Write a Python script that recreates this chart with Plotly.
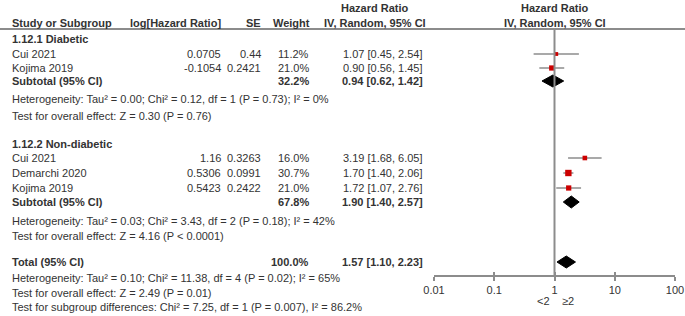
import plotly.graph_objects as go

W, H = 685, 316

# ---------------- data ----------------
diab_names = ["Cui 2021", "Kojima 2019"]
diab_loghr = ["0.0705", "-0.1054"]
diab_se = ["0.44", "0.2421"]
diab_weight = [11.2, 21.0]
diab_hr = [1.07, 0.90]
diab_lo = [0.45, 0.56]
diab_hi = [2.54, 1.45]
diab_sub_weight = 32.2
diab_sub_hr = [0.94, 0.62, 1.42]
diab_het = "Heterogeneity: Tau² = 0.00; Chi² = 0.12, df = 1 (P = 0.73); I² = 0%"
diab_test = "Test for overall effect: Z = 0.30 (P = 0.76)"

nond_names = ["Cui 2021", "Demarchi 2020", "Kojima 2019"]
nond_loghr = ["1.16", "0.5306", "0.5423"]
nond_se = ["0.3263", "0.0991", "0.2422"]
nond_weight = [16.0, 30.7, 21.0]
nond_hr = [3.19, 1.70, 1.72]
nond_lo = [1.68, 1.40, 1.07]
nond_hi = [6.05, 2.06, 2.76]
nond_sub_weight = 67.8
nond_sub_hr = [1.90, 1.40, 2.57]
nond_het = "Heterogeneity: Tau² = 0.03; Chi² = 3.43, df = 2 (P = 0.18); I² = 42%"
nond_test = "Test for overall effect: Z = 4.16 (P < 0.0001)"

total_weight = 100.0
total_hr = [1.57, 1.10, 2.23]
total_het = "Heterogeneity: Tau² = 0.10; Chi² = 11.38, df = 4 (P = 0.02); I² = 65%"
total_test = "Test for overall effect: Z = 2.49 (P = 0.01)"
subgroup_test = "Test for subgroup differences: Chi² = 7.25, df = 1 (P = 0.007), I² = 86.2%"

tick_vals = [0.01, 0.1, 1, 10, 100]
tick_text = ["0.01", "0.1", "1", "10", "100"]
favours = ["<2", "≥2"]

# ---------------- layout constants (pixel rows) ----------------
Y_H1, Y_H2, Y_LINE = 8, 23, 29
Y_DIAB_T = 39
Y_DIAB = [54, 68]
Y_DIAB_SUB, Y_DIAB_HET, Y_DIAB_TEST = 81, 99, 116
Y_NOND_T = 144
Y_NOND = [158, 173, 188]
Y_NOND_SUB, Y_NOND_HET, Y_NOND_TEST = 202, 221, 236
Y_TOT, Y_TOT_HET, Y_TOT_TEST, Y_SUBG = 262, 277.5, 292.5, 307
Y_AXIS = 276
Y_FAV = 301

X_NAME = 10
X_LOG = 223
X_SE = 263
X_W = 311
X_CI = 425
X_HDR_CI = 375
X_PLOT0, X_PLOT1 = 434, 675

TXT = "#333333"
GRAY = "#8c8c8c"
RED = "#cc0000"
FONT = "Liberation Sans, Arial, sans-serif"
FS = 11

annotations = []


def txt(x, y, s, anchor="left", bold=False, size=FS):
    annotations.append(dict(
        x=x / W, xref="paper", y=y, yref="y",
        text=f"<b>{s}</b>" if bold else s,
        showarrow=False, xanchor=anchor, yanchor="middle",
        font=dict(family=FONT, size=size, color=TXT),
    ))


def ci_text(hr, lo, hi):
    return f"{hr:.2f} [{lo:.2f}, {hi:.2f}]"


# headers
txt(X_HDR_CI, Y_H1, "Hazard Ratio", "center", True)
txt((X_PLOT0 + X_PLOT1) / 2 + 0.5, Y_H1, "Hazard Ratio", "center", True)
txt(X_NAME, Y_H2, "Study or Subgroup", "left", True)
txt(X_LOG, Y_H2, "log[Hazard Ratio]", "right", True)
txt(X_SE, Y_H2, "SE", "right", True)
txt(X_W + 1, Y_H2, "Weight", "right", True)
txt(X_HDR_CI, Y_H2, "IV, Random, 95% CI", "center", True)
txt((X_PLOT0 + X_PLOT1) / 2 + 0.5, Y_H2, "IV, Random, 95% CI", "center", True)

fig = go.Figure()


def study_rows(names, loghr, se, weight, hr, lo, hi, ys):
    for i, n in enumerate(names):
        y = ys[i]
        txt(X_NAME, y, n)
        txt(X_LOG, y, loghr[i], "right")
        txt(X_SE, y, se[i], "right")
        txt(X_W, y, f"{weight[i]:.1f}%", "right")
        txt(X_CI, y, ci_text(hr[i], lo[i], hi[i]), "right")
        fig.add_trace(go.Scatter(
            x=[lo[i], hi[i]], y=[y, y], mode="lines",
            line=dict(color=GRAY, width=1.5), hoverinfo="skip", showlegend=False))
        fig.add_trace(go.Scatter(
            x=[hr[i]], y=[y], mode="markers",
            marker=dict(symbol="square", color=RED, size=1.15 * weight[i] ** 0.5,
                        line=dict(width=0)),
            hoverinfo="skip", showlegend=False))


def diamond(vals, y, half=6):
    hr, lo, hi = vals
    fig.add_trace(go.Scatter(
        x=[lo, hr, hi, hr, lo], y=[y, y - half, y, y + half, y],
        mode="lines", fill="toself", fillcolor="black",
        line=dict(color="black", width=1), hoverinfo="skip", showlegend=False))


# Diabetic
txt(X_NAME, Y_DIAB_T, "1.12.1 Diabetic", bold=True)
study_rows(diab_names, diab_loghr, diab_se, diab_weight, diab_hr, diab_lo, diab_hi, Y_DIAB)
txt(X_NAME, Y_DIAB_SUB, "Subtotal (95% CI)", bold=True)
txt(X_W, Y_DIAB_SUB, f"{diab_sub_weight:.1f}%", "right", True)
txt(X_CI, Y_DIAB_SUB, ci_text(*diab_sub_hr), "right", True)
diamond(diab_sub_hr, Y_DIAB_SUB)
txt(X_NAME, Y_DIAB_HET, diab_het)
txt(X_NAME, Y_DIAB_TEST, diab_test)

# Non-diabetic
txt(X_NAME, Y_NOND_T, "1.12.2 Non-diabetic", bold=True)
study_rows(nond_names, nond_loghr, nond_se, nond_weight, nond_hr, nond_lo, nond_hi, Y_NOND)
txt(X_NAME, Y_NOND_SUB, "Subtotal (95% CI)", bold=True)
txt(X_W, Y_NOND_SUB, f"{nond_sub_weight:.1f}%", "right", True)
txt(X_CI, Y_NOND_SUB, ci_text(*nond_sub_hr), "right", True)
diamond(nond_sub_hr, Y_NOND_SUB)
txt(X_NAME, Y_NOND_HET, nond_het)
txt(X_NAME, Y_NOND_TEST, nond_test)

# Total
txt(X_NAME, Y_TOT, "Total (95% CI)", bold=True)
txt(X_W, Y_TOT, f"{total_weight:.1f}%", "right", True)
txt(X_CI, Y_TOT, ci_text(*total_hr), "right", True)
diamond(total_hr, Y_TOT)
txt(X_NAME, Y_TOT_HET, total_het)
txt(X_NAME, Y_TOT_TEST, total_test)
txt(X_NAME, Y_SUBG, subgroup_test)

# favours labels
txt(543, Y_FAV, favours[0], "center")
txt(568, Y_FAV, favours[1], "center")

# invisible trace for overlay axis
fig.add_trace(go.Scatter(x=[1], y=[Y_AXIS], xaxis="x2", yaxis="y", mode="markers",
                         marker=dict(opacity=0), hoverinfo="skip", showlegend=False))

shapes = [
    dict(type="line", xref="paper", x0=0, x1=1, yref="y", y0=Y_LINE, y1=Y_LINE,
         line=dict(color=GRAY, width=2)),
    dict(type="line", xref="x", x0=1, x1=1, yref="y", y0=Y_LINE, y1=Y_AXIS,
         line=dict(color=GRAY, width=2)),
]

axis_pos = (H - Y_AXIS) / H
common = dict(type="log", range=[-2, 2], domain=[X_PLOT0 / W, X_PLOT1 / W],
              anchor="free", position=axis_pos, showgrid=False, zeroline=False,
              tickvals=tick_vals, fixedrange=True, automargin=False)

fig.update_layout(
    template="none",
    width=W, height=H, margin=dict(l=0, r=0, t=0, b=0, pad=0, autoexpand=False),
    paper_bgcolor="white", plot_bgcolor="white",
    xaxis=dict(**common, showline=True, linecolor=GRAY, linewidth=2,
               ticks="outside", ticklen=4, tickwidth=1.5, tickcolor=GRAY,
               ticktext=tick_text,
               tickfont=dict(family=FONT, size=FS, color=TXT)),
    xaxis2=dict(**common, overlaying="x", showline=False, ticks="inside",
                ticklen=4, tickwidth=1.5, tickcolor=GRAY, showticklabels=False),
    yaxis=dict(range=[H, 0], domain=[0, 1], visible=False, fixedrange=True,
               automargin=False),
    shapes=shapes, annotations=annotations, showlegend=False,
)

fig.write_html(
    "out.html",
    config={"displayModeBar": False},
    post_script="document.body.style.margin='0';document.body.style.overflow='hidden';",
)
